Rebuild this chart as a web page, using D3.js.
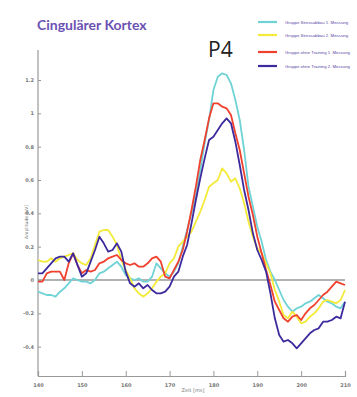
<!DOCTYPE html>
<html>
<head>
<meta charset="utf-8">
<script src="https://cdn.jsdelivr.net/npm/d3@7"></script>
<style>
	body { margin: 0; background: #fff; }
	svg { display: block; }
</style>
</head>
<body>
<div id="chart"></div>
<script>
'use strict';

// time axis (ms), one sample per ms
var times = d3.range(140, 211, 1);

var stressFirst = [
	-0.07,-0.08,-0.09,-0.09,-0.10,-0.07,-0.05,-0.02,0.01,0.00,
	-0.01,-0.01,-0.02,0.00,0.04,0.05,0.07,0.09,0.11,0.08,
	0.03,0.01,0.00,0.01,-0.01,-0.01,0.02,0.10,0.07,0.04,
	0.02,0.05,0.10,0.20,0.30,0.40,0.51,0.66,0.82,0.96,
	1.14,1.22,1.24,1.23,1.18,1.08,0.96,0.78,0.56,0.44,
	0.32,0.23,0.12,0.05,0.00,-0.06,-0.12,-0.16,-0.19,-0.17,
	-0.16,-0.14,-0.13,-0.11,-0.09,-0.11,-0.13,-0.14,-0.16,-0.17,
	-0.13
];

var stressSecond = [
	0.12,0.11,0.11,0.13,0.11,0.13,0.14,0.15,0.16,0.12,
	0.10,0.09,0.13,0.21,0.29,0.30,0.30,0.26,0.21,0.12,
	0.06,0.01,-0.05,-0.08,-0.10,-0.08,-0.05,-0.01,0.02,0.04,
	0.10,0.13,0.20,0.23,0.26,0.29,0.35,0.41,0.48,0.56,
	0.58,0.60,0.67,0.64,0.59,0.61,0.55,0.46,0.35,0.26,
	0.19,0.16,0.10,0.04,-0.06,-0.13,-0.21,-0.23,-0.19,-0.22,
	-0.26,-0.25,-0.22,-0.20,-0.17,-0.13,-0.12,-0.13,-0.14,-0.12,
	-0.06
];

var noTrainingFirst = [
	-0.01,-0.01,0.04,0.05,0.05,0.05,0.00,0.10,0.16,0.09,
	0.04,0.06,0.05,0.06,0.10,0.11,0.13,0.14,0.15,0.12,
	0.10,0.09,0.10,0.08,0.08,0.10,0.13,0.14,0.11,0.02,
	0.01,0.06,0.11,0.18,0.29,0.42,0.56,0.72,0.84,0.97,
	1.06,1.06,1.04,1.03,0.99,0.88,0.78,0.64,0.50,0.39,
	0.26,0.16,0.06,-0.03,-0.13,-0.18,-0.23,-0.25,-0.22,-0.21,
	-0.24,-0.20,-0.17,-0.15,-0.12,-0.09,-0.07,-0.04,-0.01,-0.02,
	-0.03
];

var noTrainingSecond = [
	0.04,0.04,0.07,0.10,0.13,0.14,0.14,0.11,0.16,0.09,
	0.02,0.04,0.11,0.18,0.26,0.22,0.17,0.18,0.22,0.17,
	0.05,-0.02,-0.04,-0.02,-0.05,-0.03,-0.06,-0.08,-0.08,-0.07,
	-0.04,0.02,0.05,0.14,0.21,0.34,0.48,0.61,0.73,0.84,
	0.86,0.90,0.94,0.97,0.94,0.83,0.69,0.54,0.42,0.28,
	0.18,0.12,0.05,-0.08,-0.23,-0.33,-0.37,-0.36,-0.38,-0.41,
	-0.38,-0.35,-0.32,-0.30,-0.29,-0.25,-0.25,-0.24,-0.22,-0.23,
	-0.13
];

var seriesNames = [
	'Gruppe Stressabbau 1. Messung',
	'Gruppe Stressabbau 2. Messung',
	'Gruppe ohne Training 1. Messung',
	'Gruppe ohne Training 2. Messung'
];
var seriesColors = ['#6fd3d6', '#f4ea3a', '#f0402e', '#3d2b9e'];
var seriesValues = [stressFirst, stressSecond, noTrainingFirst, noTrainingSecond];

var xTicks = [140, 150, 160, 170, 180, 190, 200, 210];
var yTicks = [-0.4, -0.2, 0, 0.2, 0.4, 0.6, 0.8, 1, 1.2];
var yTickLabels = ['-0.4', '-0.2', '0', '0.2', '0.4', '0.6', '0.8', '1', '1.2'];

var width = 357, height = 397;

var svg = d3.select('#chart').append('svg')
	.attr('width', width)
	.attr('height', height);

var x = d3.scaleLinear().domain([140, 210]).range([38, 345]);
var y = d3.scaleLinear().domain([-0.576, 1.38]).range([376, 50]);

// title + peak label
svg.append('text')
	.attr('x', 37).attr('y', 30)
	.attr('font-family', 'Lato, sans-serif')
	.attr('font-weight', 700)
	.attr('font-size', 14)
	.attr('fill', '#6a52b3')
	.text('Cingulärer Kortex');

svg.append('text')
	.attr('x', 208).attr('y', 57)
	.attr('font-family', '"Open Sans", sans-serif')
	.attr('font-size', 21)
	.attr('fill', '#222')
	.text('P4');

// axes
var xAxis = svg.append('g')
	.attr('transform', 'translate(0,376)')
	.call(d3.axisBottom(x).tickValues(xTicks).tickSize(-5).tickPadding(7).tickFormat(d3.format('d')));

var yAxis = svg.append('g')
	.attr('transform', 'translate(38,0)')
	.call(d3.axisLeft(y).tickValues(yTicks).tickSize(-3).tickPadding(4)
		.tickFormat(function(d, i) { return yTickLabels[i]; }));

[xAxis, yAxis].forEach(function(g) {
	g.select('.domain').attr('stroke', '#999').attr('stroke-width', 1.2);
	g.selectAll('.tick line').attr('stroke', '#999');
	g.selectAll('.tick text')
		.attr('fill', '#777')
		.attr('font-family', '"DejaVu Sans", sans-serif')
		.attr('font-weight', 700)
		.attr('font-size', 5);
});
yAxis.select('.domain').attr('d', 'M0,' + y(1.38) + 'V376');

svg.append('text')
	.attr('transform', 'translate(28,222) rotate(-90)')
	.attr('text-anchor', 'middle')
	.attr('font-family', '"DejaVu Sans", sans-serif')
	.attr('font-size', 4.5)
	.attr('fill', '#777')
	.text('Amplitude [µV]');

svg.append('text')
	.attr('x', 193).attr('y', 392)
	.attr('text-anchor', 'middle')
	.attr('font-family', '"DejaVu Sans", sans-serif')
	.attr('font-size', 5)
	.attr('fill', '#777')
	.text('Zeit [ms]');

// zero line
svg.append('line')
	.attr('x1', x(140)).attr('x2', x(210))
	.attr('y1', y(0)).attr('y2', y(0))
	.attr('stroke', '#999')
	.attr('stroke-width', 1.4);

var line = d3.line()
	.x(function(d, i) { return x(times[i]); })
	.y(function(d) { return y(d); });

svg.append('g').selectAll('path')
	.data(seriesValues)
	.enter()
	.append('path')
	.attr('d', line)
	.attr('fill', 'none')
	.attr('stroke', function(d, i) { return seriesColors[i]; })
	.attr('stroke-width', 1.8)
	.attr('stroke-linejoin', 'round');

// legend
var legendY = [22, 35, 52, 66];
var legend = svg.append('g').selectAll('g')
	.data(seriesNames)
	.enter()
	.append('g')
	.attr('transform', function(d, i) { return 'translate(258,' + legendY[i] + ')'; });

legend.append('line')
	.attr('x1', 0).attr('x2', 19)
	.attr('stroke', function(d, i) { return seriesColors[i]; })
	.attr('stroke-width', 2.2);

legend.append('text')
	.attr('x', 27).attr('y', 1.6)
	.attr('font-family', '"Liberation Sans", Arial, sans-serif')
	.attr('font-weight', 400)
	.attr('font-size', 4.3)
	.attr('fill', '#5a46a8')
	.text(function(d) { return d; });
</script>
</body>
</html>
